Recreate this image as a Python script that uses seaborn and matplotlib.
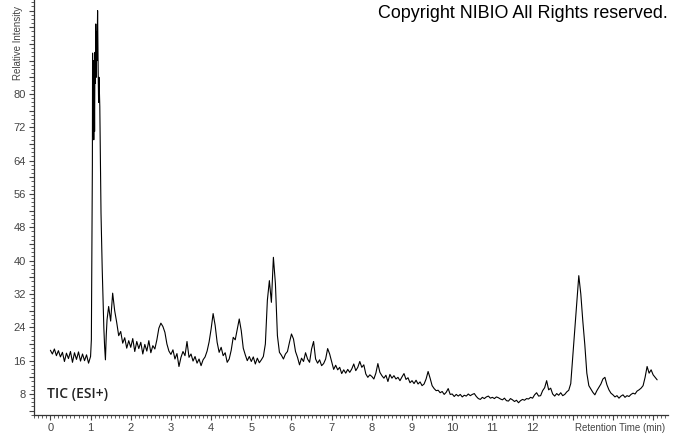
import matplotlib
matplotlib.use("Agg")
import matplotlib.pyplot as plt
from matplotlib.ticker import MultipleLocator, FixedLocator
import numpy as np
import seaborn as sns

# retention time (min) / relative intensity
rt_start = np.round(np.arange(0.0, 0.96, 0.05), 2)
int_start = [18.5, 17.6, 18.8, 17.2, 18.4, 16.9, 18.0, 15.8, 17.8, 16.5,
             18.2, 15.6, 17.9, 16.3, 18.1, 15.9, 17.6, 16.0, 17.4, 15.4]

# main peak, sampled finer
rt_peak = [1.00, 1.02, 1.035, 1.045, 1.05, 1.06, 1.07, 1.08, 1.09, 1.10,
           1.11, 1.12, 1.13, 1.14, 1.15, 1.16, 1.175, 1.19, 1.20, 1.21,
           1.23, 1.26, 1.29, 1.31, 1.33, 1.35, 1.37, 1.39, 1.41]
int_peak = [17.0, 21.0, 45.0, 63.0, 89.8, 70.0, 88.0, 69.0, 86.0, 71.0,
            90.0, 82.6, 96.8, 84.0, 95.0, 88.0, 100.0, 85.0, 78.0, 84.0,
            77.0, 51.4, 38.0, 30.6, 24.0, 19.3, 16.2, 22.0, 25.8]

rt_end = np.round(np.arange(1.45, 15.11, 0.05), 2)
int_end = [
    # 1.45 - 1.95
    29.0, 25.5, 32.2, 28.0, 25.2, 22.0, 23.0, 20.2, 21.5, 19.0, 20.8,
    # 2.00 - 2.95
    19.2, 21.3, 18.2, 20.6, 18.9, 20.4, 17.6, 19.9, 18.3, 20.8,
    17.9, 19.6, 18.8, 21.0, 23.8, 25.0, 24.2, 22.8, 20.0, 18.3,
    # 3.00 - 3.95
    17.5, 18.6, 16.4, 17.7, 14.6, 16.8, 18.2, 17.2, 20.6, 16.8,
    17.6, 15.9, 17.0, 15.4, 16.4, 14.8, 16.2, 16.9, 18.3, 20.5,
    # 4.00 - 4.95
    23.6, 27.3, 24.5, 20.4, 18.0, 19.2, 17.2, 17.9, 15.6, 16.4,
    18.5, 21.6, 21.0, 23.5, 26.0, 23.2, 19.0, 17.4, 16.0, 17.0,
    # 5.00 - 5.95
    15.8, 16.9, 15.2, 16.6, 15.5, 16.2, 17.0, 20.0, 30.5, 35.2,
    30.0, 40.8, 34.5, 22.0, 18.0, 17.3, 16.4, 17.6, 18.2, 20.4,
    # 6.00 - 6.95
    22.4, 21.2, 18.2, 16.8, 15.0, 16.6, 15.8, 17.9, 16.4, 15.6,
    18.8, 20.6, 16.4, 15.4, 16.2, 14.8, 15.3, 16.4, 18.9, 17.6,
    # 7.00 - 7.95
    15.8, 13.9, 14.9, 13.8, 14.4, 12.9, 13.8, 13.0, 13.9, 13.2,
    14.0, 15.2, 13.6, 14.4, 15.8, 14.4, 15.0, 12.8, 12.0, 12.6,
    # 8.00 - 8.95
    12.2, 11.6, 13.0, 15.3, 13.2, 12.4, 11.8, 12.5, 11.0, 12.7,
    11.8, 12.4, 11.6, 12.0, 11.2, 12.1, 12.9, 11.5, 11.9, 10.7,
    # 9.00 - 9.95
    11.2, 10.5, 11.3, 10.4, 10.9, 10.0, 10.4, 11.6, 13.4, 11.8,
    10.0, 9.3, 8.8, 8.9, 8.3, 8.6, 7.9, 8.4, 9.3, 7.9,
    # 10.00 - 10.95
    8.0, 7.4, 7.9, 7.5, 7.9, 7.3, 7.7, 7.5, 8.0, 7.6,
    7.9, 8.1, 7.4, 6.9, 6.7, 7.2, 6.9, 7.3, 7.5, 7.0,
    # 11.00 - 11.95
    7.2, 6.9, 7.3, 7.1, 6.8, 6.6, 7.0, 6.4, 6.3, 6.9,
    6.6, 6.2, 6.5, 5.9, 6.4, 6.7, 6.5, 6.9, 6.8, 7.2,
    # 12.00 - 12.95
    7.0, 7.8, 8.3, 7.5, 7.6, 8.8, 9.5, 11.2, 9.0, 9.4,
    8.0, 7.5, 8.1, 7.7, 8.3, 7.6, 7.9, 8.5, 8.9, 10.5,
    # 13.00 - 13.95
    17.0, 23.8, 29.8, 36.4, 32.0, 25.5, 19.8, 13.0, 10.0, 9.2,
    8.4, 7.8, 8.8, 9.6, 10.4, 11.6, 12.0, 10.2, 9.0, 8.2,
    # 14.00 - 14.95
    7.8, 7.3, 7.6, 7.0, 7.5, 7.8, 7.2, 7.6, 7.4, 7.9,
    8.2, 8.0, 8.7, 9.0, 9.4, 10.0, 12.0, 14.6, 13.0, 13.8,
    # 15.00 - 15.10
    12.6, 12.0, 11.4,
]
assert len(rt_start) == len(int_start)
assert len(rt_peak) == len(int_peak)
assert len(rt_end) == len(int_end)

rt = np.concatenate([rt_start, rt_peak, rt_end])
intensity = np.concatenate([int_start, int_peak, int_end])

x_tick_labels = [str(i) for i in range(13)] + ["", "", ""]
y_labelled = list(range(8, 81, 8))

sns.set_style("ticks")
plt.rcParams['font.family'] = ['Liberation Sans', 'DejaVu Sans']

fig = plt.figure(figsize=(6.74, 4.34), dpi=100)
ax = fig.add_axes([33.5 / 674, 19 / 434, (668 - 33.5) / 674, 415 / 434])

sns.lineplot(x=rt, y=intensity, ax=ax, color='black', linewidth=0.8,
             sort=False, estimator=None)

ax.set_xlim(-0.42, 15.37)
ax.set_ylim(2.96, 102.55)

ax.xaxis.set_major_locator(FixedLocator(range(16)))
ax.set_xticklabels(x_tick_labels)
ax.xaxis.set_minor_locator(MultipleLocator(0.1))
ax.yaxis.set_major_locator(MultipleLocator(4))
ax.set_yticklabels([str(int(v)) if int(v) in y_labelled else ""
                    for v in ax.get_yticks()])
ax.yaxis.set_minor_locator(MultipleLocator(1))

# tick lengths in points (~5 px and ~2.5 px at 100 dpi)
ax.tick_params(which='major', length=3.6, width=0.8, color='#444444',
               labelsize=8, labelcolor='#444444', pad=2)
ax.tick_params(which='minor', length=1.9, width=0.6, color='#444444')
for side in ['left', 'bottom']:
    ax.spines[side].set_color('#333333')
    ax.spines[side].set_linewidth(0.9)
sns.despine(ax=ax)
ax.set_xlabel("")
ax.set_ylabel("")

fig.text(665 / 674, 1 - 428 / 434, "Retention Time (min)", ha='right',
         va='center', fontsize=7, color='#444444')
fig.text(18 / 674, 1 - 80 / 434, "Relative Intensity", rotation=90,
         ha='center', va='bottom', fontsize=7, color='#444444')
fig.text(47 / 674, 1 - 394 / 434, "TIC (ESI+)", ha='left', va='center',
         fontsize=10, fontweight='semibold', color='#222222',
         family=['Open Sans', 'DejaVu Sans'])
fig.text(668 / 674, 1 - 14 / 434, "Copyright NIBIO All Rights reserved.",
         ha='right', va='center', fontsize=12.9, color='black')

fig.savefig("out.png", dpi=100)
